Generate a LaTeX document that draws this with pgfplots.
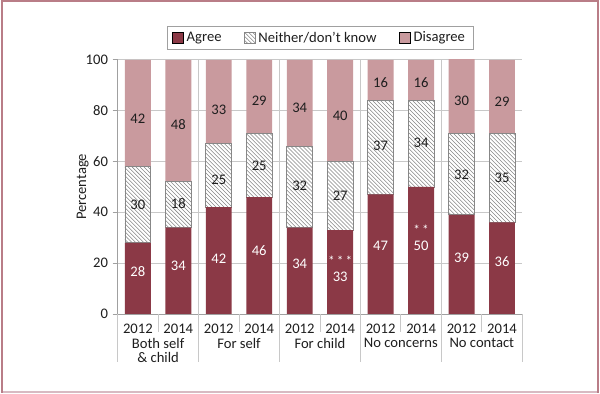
\documentclass[border=0pt]{standalone}
\usepackage{pgfplots}
\pgfplotsset{compat=1.18}
\usepackage{fontspec}
\setmainfont{Carlito}
\usetikzlibrary{patterns}
\definecolor{agree}{RGB}{139,57,70}
\definecolor{disagree}{RGB}{201,154,158}
\definecolor{framec}{RGB}{185,125,135}
\definecolor{framelight}{RGB}{216,186,194}
\definecolor{gridc}{RGB}{200,200,200}
\definecolor{axisc}{RGB}{160,160,160}
\definecolor{hatchc}{RGB}{135,135,135}
\definecolor{txt}{RGB}{30,30,30}
\newcommand\lfont{\fontsize{11}{10}\selectfont}
\begin{document}
\begin{tikzpicture}[x=1pt,y=1pt]
\fill[white] (0,0) rectangle (450,295.5);
\draw[framelight, line width=1.5pt] (0,0.75)--(450,0.75);
\draw[framec, line width=1.5pt] (0.75,0) -- (0.75,294.75) -- (449.25,294.75) -- (449.25,0);
\begin{axis}[
  at={(87.75pt,59.25pt)}, anchor=south west,
  scale only axis, width=304.5pt, height=191.25pt,
  xmin=-0.5, xmax=9.5, ymin=0, ymax=100,
  ybar stacked, bar width=19.5pt,
  axis lines*=left, axis line style={axisc, line width=0.6pt, -},
  ytick={0,20,...,100}, ymajorgrids, grid style={gridc, line width=0.6pt},
  ytick style={axisc, line width=0.6pt}, tick align=outside, major tick length=3.75pt,
  xtick={0,...,9}, xticklabels={2012,2014,2012,2014,2012,2014,2012,2014,2012,2014},
  xtick style={draw=none},
  tick label style={font=\lfont, text=txt},
  /pgf/number format/assume math mode=true,
  ylabel={Percentage}, ylabel style={font=\lfont, text=txt}, ylabel shift=-9pt,
  clip mode=individual,
  legend style={at={(0.5,1)}, anchor=south, yshift=7.5pt, draw=axisc, line width=0.6pt,
    legend columns=3, font=\lfont, text=txt, inner ysep=2pt, inner xsep=4pt,
    /tikz/every even column/.append style={column sep=15pt}},
  legend image code/.code={\draw[#1] (0pt,-4.1pt) rectangle (8.3pt,4.2pt);},
]
\addplot[fill=agree, draw=none] coordinates {(0,28) (1,34) (2,42) (3,46) (4,34) (5,33) (6,47) (7,50) (8,39) (9,36)};
\addlegendentry{Agree}
\addplot[fill=white, draw=hatchc, line width=0.5pt, postaction={pattern=north west lines, pattern color=hatchc}] coordinates {(0,30) (1,18) (2,25) (3,25) (4,32) (5,27) (6,37) (7,34) (8,32) (9,35)};
\addlegendentry{Neither/don’t know}
\addplot[fill=disagree, draw=none] coordinates {(0,42) (1,48) (2,33) (3,29) (4,34) (5,40) (6,16) (7,16) (8,30) (9,29)};
\addlegendentry{Disagree}
\pgfplotsinvokeforeach{1.5,3.5,5.5,7.5}{\draw[gridc, line width=0.6pt] (axis cs:#1,0) -- (axis cs:#1,100);}
\pgfplotsinvokeforeach{-0.5,1.5,3.5,5.5,7.5,9.5}{\draw[gridc, line width=0.6pt] (axis cs:#1,0) -- ([yshift=-35.8pt]axis cs:#1,0);}
\pgfplotsinvokeforeach{0.5,2.5,4.5,6.5,8.5}{\draw[gridc, line width=0.6pt] (axis cs:#1,0) -- ([yshift=-13.5pt]axis cs:#1,0);}
\end{axis}
\begin{axis}[
  at={(87.75pt,59.25pt)}, anchor=south west,
  scale only axis, width=304.5pt, height=191.25pt,
  xmin=-0.5, xmax=9.5, ymin=0, ymax=100,
  axis line style={draw=none}, ytick=\empty,
  xtick={0.5,2.5,4.5,6.5,8.5},
  xticklabels={{Both self\\\& child},{For self},{For child},{No concerns},{No contact}},
  xtick style={draw=none},
  xticklabel style={font=\lfont, text=txt, align=center, yshift=-15pt},
  clip=false,
  nodes near coords, point meta=explicit symbolic,
  nodes near coords align={center},
  every node near coord/.append style={anchor=center, inner sep=0pt, font=\lfont},
]
\addplot[only marks, mark=none, every node near coord/.append style={text=white}] coordinates {(0,16.5)[28] (1,18.9)[34] (2,21.6)[42] (3,25.1)[46] (4,19.6)[34] (5,14.6)[33] (6,26.8)[47] (7,27.0)[50] (8,22.2)[39] (9,20.7)[36]};
\addplot[only marks, mark=none, every node near coord/.append style={text=txt}] coordinates {(0,43.1)[30] (1,43.5)[18] (2,52.9)[25] (3,58.4)[25] (4,50.3)[32] (5,46.4)[27] (6,66)[37] (7,67.3)[34] (8,54.9)[32] (9,53.6)[35]};
\addplot[only marks, mark=none, every node near coord/.append style={text=txt}] coordinates {(0,76.9)[42] (1,74.5)[48] (2,80.4)[33] (3,83.7)[29] (4,81)[34] (5,78)[40] (6,90.9)[16] (7,90.9)[16] (8,83.7)[30] (9,83.3)[29]};
\addplot[only marks, mark=none, every node near coord/.append style={text=white, font=\fontsize{10}{10}\selectfont}] coordinates {(5,21.0)[*\,*\,*] (7,33.0)[*\,*]};
\end{axis}
\end{tikzpicture}
\end{document}
